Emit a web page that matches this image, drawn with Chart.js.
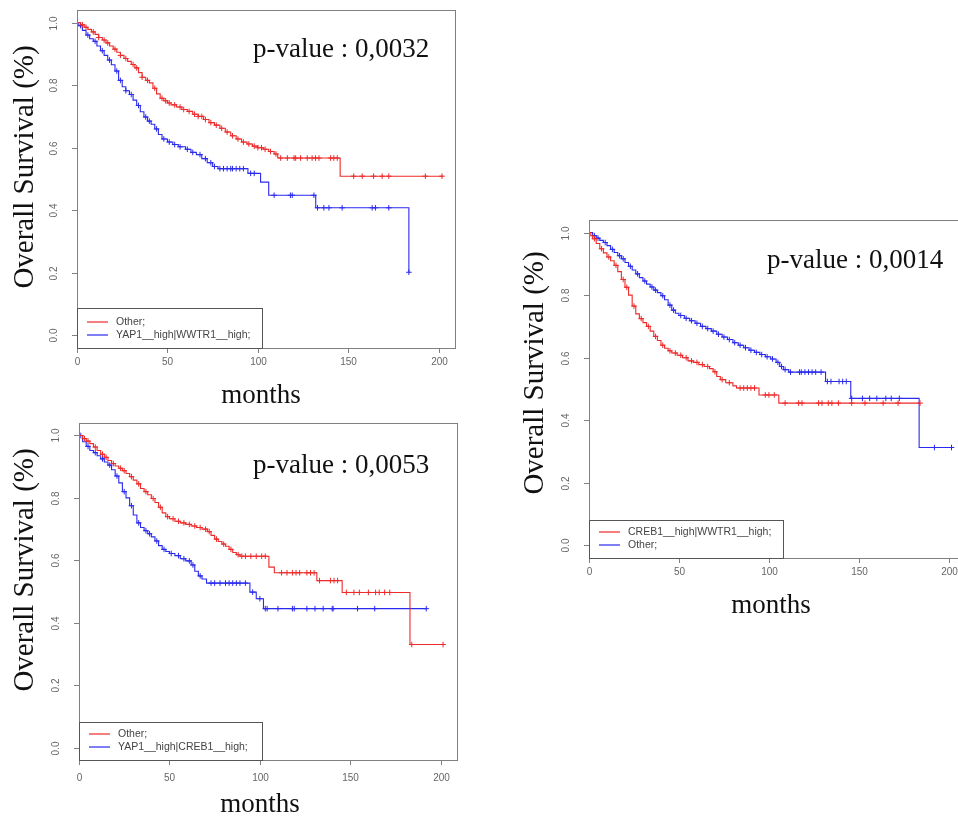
<!DOCTYPE html>
<html><head><meta charset="utf-8">
<script src="https://cdn.jsdelivr.net/npm/chart.js@4.4.0/dist/chart.umd.min.js"></script>
<style>
html,body{margin:0;padding:0;background:#fff;overflow:hidden;width:958px;height:816px;position:relative;}
canvas{position:absolute;}
</style></head><body>
<canvas id="c1" style="left:0px;top:0px" width="470" height="415"></canvas>
<canvas id="c2" style="left:0px;top:415px" width="470" height="401"></canvas>
<canvas id="c3" style="left:500px;top:205px" width="470" height="415"></canvas>
<script>
// ---------- shared axis data ----------
const monthTicks = [0, 50, 100, 150, 200];
const survTicks = [0, 0.2, 0.4, 0.6, 0.8, 1.0];
const survTickLabels = ['0.0', '0.2', '0.4', '0.6', '0.8', '1.0'];
const xTitle = 'months';
const yTitle = 'Overall Survival (%)';

// ---------- Plot 1 (top left) ----------
const p1Labels = ['Other;', 'YAP1__high|WWTR1__high;'];
const p1PValue = 'p-value : 0,0032';
const p1OtherT = [0,2,4,6,8,10,12,14,16,18,20,22,24,26,28,30,32,34,36,38,40,42,44,46,48,50,52,55,58,61,64,67,70,73,76,79,82,85,88,91,94,97,100,103,106,109,111,145.5,202.5];
const p1OtherS = [1.0,0.993,0.985,0.978,0.97,0.962,0.952,0.944,0.935,0.925,0.915,0.905,0.895,0.885,0.876,0.866,0.855,0.84,0.825,0.815,0.807,0.79,0.772,0.758,0.75,0.743,0.737,0.73,0.722,0.716,0.707,0.7,0.69,0.68,0.672,0.662,0.65,0.638,0.628,0.618,0.612,0.605,0.6,0.595,0.588,0.58,0.567,0.509,0.509];
const p1OtherCens = [3,5,9,12,15,17,21,24,27,31,33,36,39,43,47,49,51,54,57,59,62,65,67,69,71,74,77,80,83,86,89,92,95,98,100,102,104,107,110,112.6,116.3,120,120.9,123.6,127.3,130,131.9,133.8,140.2,142,143.9,153,157.7,164,168.7,172.4,192.6,201.8];
const p1GroupT = [0,1,3,5,7,9,11,13,15,17,19,21,23,25,27,29,31,33,35,37,39,41,43,45,47,50,53,56,60,63,66,69,72,75,78,94.5,101.5,106,132,183.5];
const p1GroupS = [1.0,0.99,0.975,0.96,0.948,0.94,0.925,0.91,0.895,0.88,0.865,0.845,0.815,0.795,0.782,0.77,0.752,0.735,0.715,0.698,0.685,0.675,0.66,0.642,0.628,0.618,0.61,0.603,0.595,0.585,0.578,0.565,0.552,0.54,0.533,0.518,0.49,0.448,0.408,0.202];
const p1GroupCens = [2,6,10,14,18,22,24,27,30,34,38,40,44,48,51,54,57,61,64,68,71,74,76,79,81,83,85,86,88,90,92,96,98,109,118,119,131,133,136.5,139.3,146.6,163.2,165,172.4,183.5];

// ---------- Plot 2 (bottom left) ----------
const p2Labels = ['Other;', 'YAP1__high|CREB1__high;'];
const p2PValue = 'p-value : 0,0053';
const p2OtherT = [0,2,4,6,8,10,12,14,16,18,20,22,24,26,28,30,32,34,36,38,40,42,44,46,48,50,53,56,59,62,65,68,71,73,75,77,79,81,83,85,87,89,105,108,131.5,145.5,183,201.5];
const p2OtherS = [1.0,0.99,0.982,0.974,0.963,0.952,0.94,0.93,0.92,0.91,0.902,0.895,0.887,0.878,0.868,0.857,0.845,0.83,0.82,0.81,0.798,0.785,0.77,0.752,0.74,0.733,0.725,0.72,0.715,0.71,0.705,0.7,0.692,0.68,0.668,0.66,0.652,0.645,0.635,0.625,0.618,0.613,0.578,0.56,0.535,0.497,0.33,0.33];
const p2OtherCens = [3,5,9,13,15,19,23,25,29,33,37,41,45,49,52,55,58,61,64,67,70,72,76,80,84,88,90,92,95,98,101,103,112,115,118,120,122,126,128,130,133,139,141,143,147.8,152,155,160,164,166,169,171.8,184,201.3];
const p2GroupT = [0,2,4,6,8,10,12,14,16,18,20,22,24,26,28,30,32,34,36,38,40,42,44,46,48,50,53,56,59,62,64,66,68,70.5,94.5,98,102,192];
const p2GroupS = [1.0,0.98,0.965,0.952,0.945,0.935,0.925,0.915,0.905,0.89,0.87,0.848,0.82,0.8,0.775,0.745,0.72,0.705,0.695,0.685,0.675,0.662,0.647,0.635,0.628,0.622,0.615,0.605,0.598,0.585,0.565,0.55,0.54,0.527,0.498,0.477,0.445,0.445];
const p2GroupCens = [1,5,9,13,17,21,25,29,33,37,39,43,47,51,55,58,61,63,67,73,75,78,81,83,85,87,89,92,96,100,103,104,110,118,119,126,130.5,135,140,140.5,154,163.5,192];

// ---------- Plot 3 (right) ----------
const p3Labels = ['CREB1__high|WWTR1__high;', 'Other;'];
const p3PValue = 'p-value : 0,0014';
const p3GroupT = [0,1,2,4,6,8,10,12,14,16,18,20,22,24,26,28,30,32,34,36,38,40,42,44,46,49,52,55,58,61,64,67,69,71,73,76,80,82,94.5,105.5,184];
const p3GroupS = [1.0,0.99,0.98,0.965,0.948,0.935,0.922,0.91,0.895,0.875,0.85,0.825,0.8,0.765,0.74,0.725,0.712,0.7,0.685,0.668,0.655,0.64,0.63,0.622,0.615,0.608,0.6,0.59,0.585,0.578,0.572,0.565,0.555,0.54,0.53,0.52,0.51,0.503,0.481,0.455,0.455];
const p3GroupCens = [3,7,11,15,19,21,25,29,33,37,41,45,48,51,54,57,60,63,66,70,74,78,84,86,88,90,92,98,100,103,109,116.5,118.4,127.6,129.5,133,135,138.6,146,153.4,163.5,171.8,184];
const p3OtherT = [0,2,4,6,8,10,12,14,16,18,20,22,24,26,28,30,32,34,36,38,40,42,44,46,48,50,53,56,59,62,65,68,71,74,77,80,83,86,89,92,95,98,101,104,106,108,111,131.5,145.5,183.5,201.5];
const p3OtherS = [1.0,0.99,0.982,0.975,0.968,0.958,0.946,0.936,0.926,0.916,0.904,0.892,0.88,0.868,0.856,0.845,0.835,0.826,0.816,0.808,0.798,0.785,0.768,0.752,0.742,0.735,0.726,0.718,0.71,0.7,0.693,0.685,0.675,0.666,0.658,0.648,0.64,0.632,0.624,0.617,0.61,0.603,0.596,0.585,0.572,0.562,0.554,0.524,0.47,0.313,0.313];
const p3OtherCens = [3,5,9,13,17,19,23,27,31,35,37,41,45,47,51,54,57,60,63,66,69,72,75,78,81,84,87,90,93,96,99,102,105,107,109,112,117,118,120,122,124,126,129,132.5,134.5,139,141,143,146,152,156,160,165,168,172.5,192,201.5];

const RED = '#ee2a2a';
const BLUE = '#2a2aee';

// ---------- helpers ----------
function survAt(T, S, t) {
  let v = S[0];
  for (let i = 0; i < T.length; i++) { if (T[i] <= t) v = S[i]; else break; }
  return v;
}
function stepPts(T, S) { return T.map((t, i) => ({x: t, y: S[i]})); }
function censPts(T, S, C) { return C.map(c => ({x: c, y: survAt(T, S, c)})); }

function kmDatasets(T, S, C, color) {
  return [
    {data: stepPts(T, S), showLine: true, stepped: 'before', borderColor: color, borderWidth: 1.1,
     pointRadius: 0, fill: false},
    {data: censPts(T, S, C), showLine: false, pointStyle: 'cross', pointRadius: 2.8,
     borderColor: color, borderWidth: 1, backgroundColor: color}
  ];
}

const rPlot = {
  id: 'rPlot',
  afterDraw(chart, args, o) {
    const ctx = chart.ctx, a = chart.chartArea, xs = chart.scales.x, ys = chart.scales.y;
    ctx.save();
    // frame
    ctx.strokeStyle = '#808080'; ctx.lineWidth = 1;
    ctx.strokeRect(Math.round(a.left) + 0.5, Math.round(a.top) + 0.5, Math.round(a.right - a.left), Math.round(a.bottom - a.top));
    // x ticks
    ctx.fillStyle = '#666'; ctx.font = '10px "Liberation Sans", Arial, sans-serif';
    ctx.textAlign = 'center'; ctx.textBaseline = 'middle';
    monthTicks.forEach(v => {
      const px = Math.round(xs.getPixelForValue(v)) + 0.5;
      ctx.beginPath(); ctx.moveTo(px, a.bottom); ctx.lineTo(px, a.bottom + 5); ctx.stroke();
      ctx.fillText(String(v), px, a.bottom + o.xLabOff);
    });
    // y ticks
    survTicks.forEach((v, i) => {
      const py = Math.round(ys.getPixelForValue(v)) + 0.5;
      ctx.beginPath(); ctx.moveTo(a.left - 5, py); ctx.lineTo(a.left, py); ctx.stroke();
      ctx.save(); ctx.translate(a.left - 23, py); ctx.rotate(-Math.PI / 2);
      ctx.fillText(survTickLabels[i], 0, 0); ctx.restore();
    });
    // legend box
    const lb = {l: Math.round(a.left) + 0.5, t: Math.round(a.bottom - o.legH) + 0.5, w: o.legW, h: o.legH};
    ctx.strokeStyle = '#555';
    ctx.strokeRect(lb.l, lb.t, lb.w, Math.round(a.bottom) - Math.round(a.bottom - o.legH));
    const rows = [a.bottom - 26, a.bottom - 13];
    [RED, BLUE].forEach((c, i) => {
      ctx.strokeStyle = c; ctx.lineWidth = 1.2;
      ctx.beginPath(); ctx.moveTo(a.left + 10, rows[i]); ctx.lineTo(a.left + 31, rows[i]); ctx.stroke();
      ctx.fillStyle = '#444'; ctx.textAlign = 'left'; ctx.textBaseline = 'middle';
      ctx.font = '10.5px "Liberation Sans", Arial, sans-serif';
      ctx.fillText(o.labels[i], a.left + 39, rows[i] + 0.5);
    });
    // p-value
    ctx.fillStyle = '#111'; ctx.textAlign = 'left'; ctx.textBaseline = 'alphabetic';
    ctx.font = '27px "Liberation Serif", "Times New Roman", serif';
    ctx.fillText(o.pvalue, o.pvX, o.pvY);
    // x title
    ctx.textAlign = 'center';
    ctx.fillText(xTitle, o.xtX, o.xtY);
    // y title
    ctx.save(); ctx.translate(o.ytX, o.ytY); ctx.rotate(-Math.PI / 2);
    ctx.font = '29px "Liberation Serif", "Times New Roman", serif';
    ctx.textBaseline = 'middle';
    ctx.fillText(yTitle, 0, 0); ctx.restore();
    ctx.restore();
  }
};

function makeChart(id, datasets, pad, opts) {
  return new Chart(document.getElementById(id), {
    type: 'scatter',
    data: {datasets},
    options: {
      responsive: false, animation: false, events: [],
      layout: {padding: pad},
      scales: {
        x: {type: 'linear', min: 0, max: 209, display: false},
        y: {type: 'linear', min: -0.04, max: 1.04, display: false}
      },
      plugins: {legend: {display: false}, tooltip: {enabled: false}, rPlot: opts}
    },
    plugins: [rPlot]
  });
}

makeChart('c1',
  [...kmDatasets(p1OtherT, p1OtherS, p1OtherCens, RED), ...kmDatasets(p1GroupT, p1GroupS, p1GroupCens, BLUE)],
  {left: 77, top: 10, right: 15, bottom: 67},
  {labels: p1Labels, pvalue: p1PValue, pvX: 253, pvY: 57, xtX: 261, xtY: 403, ytX: 25, ytY: 167,
   xLabOff: 14, legW: 185, legH: 40});

makeChart('c2',
  [...kmDatasets(p2OtherT, p2OtherS, p2OtherCens, RED), ...kmDatasets(p2GroupT, p2GroupS, p2GroupCens, BLUE)],
  {left: 79, top: 8, right: 13, bottom: 56},
  {labels: p2Labels, pvalue: p2PValue, pvX: 253, pvY: 58, xtX: 260, xtY: 397, ytX: 25, ytY: 155,
   xLabOff: 18, legW: 183, legH: 38});

makeChart('c3',
  [...kmDatasets(p3GroupT, p3GroupS, p3GroupCens, RED), ...kmDatasets(p3OtherT, p3OtherS, p3OtherCens, BLUE)],
  {left: 89, top: 15, right: 3, bottom: 62},
  {labels: p3Labels, pvalue: p3PValue, pvX: 267, pvY: 63, xtX: 271, xtY: 408, ytX: 35, ytY: 168,
   xLabOff: 14, legW: 194, legH: 38});
</script>
</body></html>
